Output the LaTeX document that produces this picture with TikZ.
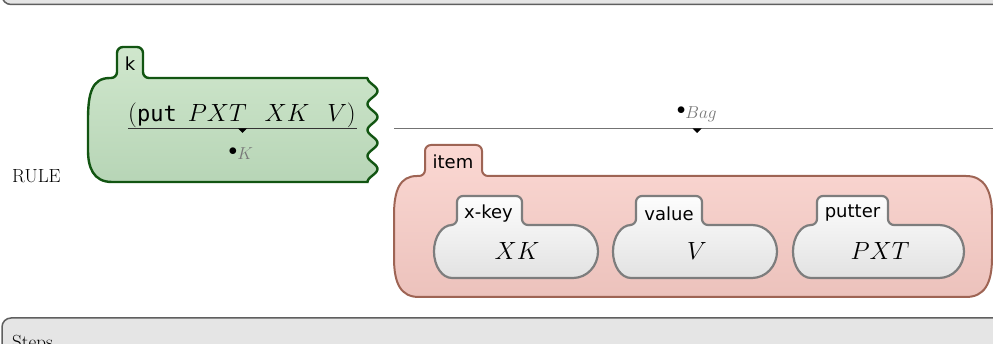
\documentclass[tikz,border=0pt]{standalone}
\usepackage{fontspec}
\usetikzlibrary{calc}
\newfontfamily\lblfont{DejaVu Sans}
\newfontfamily\kmono{DejaVu Sans Mono}
\definecolor{greenA}{RGB}{208,231,205}
\definecolor{greenB}{RGB}{183,213,182}
\definecolor{greenline}{RGB}{18,85,18}
\definecolor{pinkA}{RGB}{251,216,211}
\definecolor{pinkB}{RGB}{236,194,188}
\definecolor{pinkline}{RGB}{158,100,84}
\definecolor{innerA}{RGB}{253,253,253}
\definecolor{innerB}{RGB}{226,226,226}
\definecolor{innerline}{RGB}{125,125,125}
\definecolor{boxfill}{RGB}{229,229,229}
\definecolor{boxline}{RGB}{95,95,95}
\definecolor{sortgray}{RGB}{120,120,120}
% #1 left, #2 right, #3 tab left, #4 tab right
\newcommand\innercell[4]{%
  \path[innerstyle] ({#1},251.5) .. controls ({#1},237) and ({#1+8},225) .. ({#1+18},225)
    [rounded corners=6] -- ({#3},225) -- ({#3},196) -- ({#4},196) -- ({#4},225)
    [sharp corners] -- ({#2-25},225) .. controls ({#2-11},225) and ({#2},237) .. ({#2},251.5)
    .. controls ({#2},266) and ({#2-11},278) .. ({#2-25},278)
    -- ({#1+18},278) .. controls ({#1+8},278) and ({#1},266) .. ({#1},251.5) -- cycle;}
\begin{document}
\begin{tikzpicture}[x=1pt,y=-1pt,
  graybox/.style={draw=boxline, line width=1.5pt, fill=boxfill, rounded corners=9},
  kcellstyle/.style={draw=greenline, line width=2.4pt, top color=greenA, bottom color=greenB},
  itemstyle/.style={draw=pinkline, line width=2pt, top color=pinkA, bottom color=pinkB},
  innerstyle/.style={draw=innerline, line width=2.2pt, top color=innerA, bottom color=innerB},
  lbl/.style={font=\lblfont\fontsize{18}{21}\selectfont, inner sep=0pt},
  mathtxt/.style={font=\fontsize{24}{28}\selectfont, inner sep=0pt},
  serif/.style={font=\fontsize{19}{22}\selectfont, inner sep=0pt},
  rulebar/.style={line width=1.4pt}]
\useasboundingbox (0,0) rectangle (993,344);
\clip (0,0) rectangle (993,344);
% top and bottom boxes
\path[graybox] (2,-40) rectangle (1020,4.5);
\path[graybox] (2,318) rectangle (1020,400);
\node[serif, anchor=base west] (steps) at (12,349) {Steps};
\node[serif, anchor=base west] (rule) at (12,183) {RULE};
% k cell
\path[kcellstyle] (88,120) .. controls (88,93) and (92,78) .. (110,78)
  [rounded corners=6] -- (117,78) -- (117,47) -- (143,47) -- (143,78)
  [sharp corners] -- (368,78)
  -- plot[domain=78:182, samples=90, variable=\t] ({372.5-5*cos(13.84615*(\t-78))}, \t)
  -- (112,182) .. controls (93,182) and (88,167) .. (88,150) -- cycle;
\node[lbl] (klbl) at (130,64) {k};
\node[font=\fontsize{25}{29}\selectfont, inner sep=0pt, anchor=base] (lhs) at (242,122)
  {$(\hbox{\kmono\fontsize{22}{25}\selectfont put}\mkern8mu PXT\mkern13mu XK\mkern13mu V)$};
\coordinate (kbarL) at (128,128.5);
\coordinate (kbarR) at (357,128.5);
\draw[rulebar, black!80] (kbarL) -- (kbarR);
\fill ($(kbarL)!0.5!(kbarR)+(-4.5,0)$) -- ++(9,0) -- ++(-4.5,4.5) -- cycle;
\node[mathtxt, anchor=base] (krhs) at (241,156) {$\mathord{\scriptstyle\bullet}_{\color{sortgray}K}$};
% bag rewrite
\node[mathtxt, anchor=base] (bagtop) at (697,115) {$\mathord{\scriptstyle\bullet}_{\color{sortgray}Bag}$};
\coordinate (bagL) at (394,128.5);
\coordinate (bagR) at (993,128.5);
\draw[black!55, line width=1.6pt] (bagL) -- (bagR);
\fill (692.5,128.5) -- ++(9,0) -- ++(-4.5,4.5) -- cycle;
% item cell
\path[itemstyle] (394,215) .. controls (394,190) and (400,176) .. (417,176)
  [rounded corners=6] -- (425,176) -- (425,145) -- (482,145) -- (482,176)
  [sharp corners] -- (966,176) .. controls (984,176) and (992,190) .. (992,215)
  -- (992,258) .. controls (992,284) and (984,297) .. (966,297)
  -- (419,297) .. controls (401,297) and (394,284) .. (394,258) -- cycle;
\node[lbl] (itemlbl) at (453,162) {item};
% inner cells
\innercell{434}{598}{457}{522}
\node[lbl] (xkeylbl) at (488.5,213.5) {x-key};
\node[mathtxt] (xk) at (517,251) {$XK$};
\innercell{613}{777}{636}{702}
\node[lbl] (valuelbl) at (669,213.5) {value};
\node[mathtxt] (v) at (697,251) {$V$};
\innercell{793}{964}{817}{888}
\node[lbl] (putterlbl) at (852.5,213.5) {putter};
\node[mathtxt] (pxt) at (880,251) {$PXT$};
\end{tikzpicture}
\end{document}
